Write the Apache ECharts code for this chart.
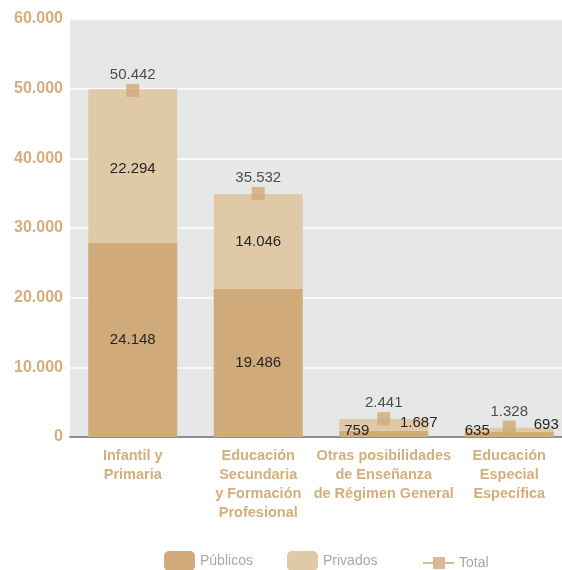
<!DOCTYPE html>
<html>
<head>
<meta charset="utf-8">
<script src="https://cdn.jsdelivr.net/npm/echarts@6/dist/echarts.min.js"></script>
<style>
html,body{margin:0;padding:0;background:#fff;}
#chart{width:562px;height:570px;}
</style>
</head>
<body>
<div id="chart"></div>
<script>
// ---- data ----
var categories = [
  'Infantil y\nPrimaria',
  'Educación\nSecundaria\ny Formación\nProfesional',
  'Otras posibilidades\nde Enseñanza\nde Régimen General',
  'Educación\nEspecial\nEspecífica'
];
// bar heights as drawn in the picture
var publicValues  = [27890, 21240, 900, 720];
var privateValues = [22020, 13640, 1680, 615];
var totalValues   = [49750, 34950, 2630, 1440];
// printed labels
var publicLabels  = ['24.148', '19.486', '759', '635'];
var privateLabels = ['22.294', '14.046', '1.687', '693'];
var totalLabels   = ['50.442', '35.532', '2.441', '1.328'];
var yTicks = [0, 10000, 20000, 30000, 40000, 50000, 60000];

// ---- styling / placement ----
var publicOffsets  = [[0, 0], [0, 0], [-27, -3], [-32, -3.5]];
var privateOffsets = [[0, 3], [0, 0], [35, -2.5], [37, -5]];
var totalDistances = [2, 2, 2, 1];

var cPublic = '#d0aa78', cPrivate = '#e0c9a7', cText = '#d4ae7b';
var sans = '"Liberation Sans",Arial,sans-serif';

function fmt(v) { return v === 0 ? '0' : (v / 1000) + '.000'; }

var chart = echarts.init(document.getElementById('chart'));
chart.setOption({
  animation: false,
  grid: { left: 70, top: 19, width: 502, height: 418, show: true, backgroundColor: '#e6e7e7',
    borderWidth: 0, outerBoundsMode: 'none', containLabel: false },
  legend: [
    { left: 159, top: 546, itemWidth: 31, itemHeight: 20, data: ['Públicos'],
      textStyle: { color: '#a9a9a9', fontSize: 14, fontFamily: sans } },
    { left: 282, top: 546, itemWidth: 31, itemHeight: 20, data: ['Privados'],
      textStyle: { color: '#a9a9a9', fontSize: 14, fontFamily: sans } },
    { left: 418, top: 551, itemWidth: 31, itemHeight: 12,
      data: [{ name: 'Total', icon: 'path://M0,5H10V0H22V5H31V7H22V12H10V7H0Z' }],
      textStyle: { color: '#a9a9a9', fontSize: 14, fontFamily: sans } }
  ],
  xAxis: {
    type: 'category',
    data: categories,
    axisLine: { lineStyle: { color: '#8f8f8f', width: 2 } },
    axisTick: { inside: true, length: 10, lineStyle: { color: '#a8a8a8', width: 1 } },
    axisLabel: { color: cText, fontWeight: 'bold', fontSize: 14.5, lineHeight: 19, margin: 9,
      fontFamily: sans, interval: 0 }
  },
  yAxis: {
    type: 'value', min: yTicks[0], max: yTicks[yTicks.length - 1], interval: yTicks[1] - yTicks[0],
    axisLine: { show: false }, axisTick: { show: false },
    splitLine: { lineStyle: { color: '#ffffff', width: 1.5 } },
    axisLabel: { color: cText, fontWeight: 'bold', fontSize: 16, margin: 7,
      fontFamily: sans, formatter: fmt }
  },
  series: [
    {
      name: 'Públicos', type: 'bar', stack: 'a', barWidth: 89,
      itemStyle: { color: cPublic },
      data: publicValues.map(function (v, i) {
        return { value: v, label: { offset: publicOffsets[i] } };
      }),
      label: { show: true, position: 'inside', color: '#262626', fontSize: 15, fontFamily: sans,
        formatter: function (p) { return publicLabels[p.dataIndex]; } }
    },
    {
      name: 'Privados', type: 'bar', stack: 'a', barWidth: 89,
      itemStyle: { color: cPrivate },
      data: privateValues.map(function (v, i) {
        return { value: v, label: { offset: privateOffsets[i] } };
      }),
      label: { show: true, position: 'inside', color: '#262626', fontSize: 15, fontFamily: sans,
        formatter: function (p) { return privateLabels[p.dataIndex]; } }
    },
    {
      name: 'Total', type: 'scatter', symbol: 'rect', symbolSize: 13, z: 5,
      itemStyle: { color: cPublic },
      data: totalValues.map(function (v, i) {
        return { value: v, label: { distance: totalDistances[i] } };
      }),
      label: { show: true, position: 'top', color: '#262626', fontSize: 15, fontFamily: sans,
        formatter: function (p) { return totalLabels[p.dataIndex]; } }
    }
  ]
});
</script>
</body>
</html>
